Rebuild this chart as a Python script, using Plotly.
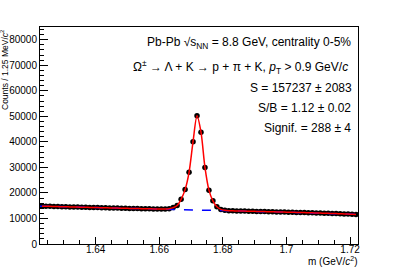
import plotly.graph_objects as go

# ---- data ----
bin_low = 1.6225
bin_width = 0.00125
counts = [14820, 14760, 14740, 14690, 14650, 14600, 14580, 14530, 14490, 14450,
          14420, 14380, 14330, 14300, 14250, 14220, 14180, 14140, 14100, 14060,
          14030, 13990, 13950, 13920, 13880, 13850, 13810, 13780, 13740, 13720,
          13700, 13720, 13850, 14250, 15100, 17500, 21300, 28100, 40100, 50200,
          43800, 30000, 21100, 16900, 14600, 13550, 13200, 13050, 12990, 12950,
          12920, 12880, 12840, 12800, 12770, 12730, 12690, 12650, 12620, 12580,
          12540, 12500, 12460, 12420, 12380, 12340, 12290, 12250, 12200, 12160,
          12110, 12060, 12010, 11960, 11900, 11850, 11790, 11730, 11670, 11600]
bg_x = [1.6225, 1.64, 1.66, 1.68, 1.70, 1.7225]
bg_y = [14830, 14300, 13650, 13080, 12450, 11590]

x_ticks = [1.64, 1.66, 1.68, 1.70, 1.72]
x_ticklabels = ["1.64", "1.66", "1.68", "1.7", "1.72"]
y_ticks = [0, 10000, 20000, 30000, 40000, 50000, 60000, 70000, 80000]
y_ticklabels = ["0", "10000", "20000", "30000", "40000", "50000", "60000", "70000", "80000"]

info_lines = [
    "Pb-Pb √s<sub>NN</sub> = 8.8 GeV, centrality 0-5%",
    "Ω<sup>±</sup> → Λ + K → p + π + K, <i>p</i><sub>T</sub> > 0.9 GeV/<i>c</i>",
    "S = 157237 ± 2083",
    "S/B = 1.12 ± 0.02",
    "Signif. = 288 ± 4",
]

centers = [bin_low + (i + 0.5) * bin_width for i in range(len(counts))]

# ---- layout geometry (pixels) ----
W, H = 398, 272
L, R, T, B = 40, 40, 27, 28
pw, ph = W - L - R, H - T - B

def px(xp):
    return (xp - L) / pw

def py(yp):
    return (H - B - yp) / ph

FONT = "Liberation Sans, Arial, Helvetica, sans-serif"

fig = go.Figure()
fig.add_trace(go.Scatter(x=centers, y=counts, mode="markers",
                         marker=dict(color="black", size=5.5, symbol="circle"),
                         showlegend=False))
fig.add_trace(go.Scatter(x=bg_x, y=bg_y, mode="lines", line_shape="spline",
                         line=dict(color="blue", width=1.5, dash="dash"),
                         showlegend=False))
fig.add_trace(go.Scatter(x=centers, y=counts, mode="lines", line_shape="spline",
                         line=dict(color="red", width=1.5, smoothing=0.8),
                         showlegend=False))

line_y = [43, 66.5, 87.5, 108, 128]
line_x = [353, 350, 354, 353, 353]
ann = []
for t, yy, xx in zip(info_lines, line_y, line_x):
    ann.append(dict(text=t, xref="paper", yref="paper", x=px(xx), y=py(yy),
                    xanchor="right", yanchor="middle", showarrow=False,
                    font=dict(size=12, color="black", family=FONT)))
ann.append(dict(text="m (GeV/<i>c</i><sup>2</sup>)", xref="paper", yref="paper",
                x=px(359), y=py(261), xanchor="right", yanchor="middle",
                showarrow=False, font=dict(size=10, color="black", family=FONT)))
ann.append(dict(text="Counts / 1.25 MeV/<i>c</i><sup>2</sup>", xref="paper", yref="paper",
                x=px(4), y=py(28), xanchor="center", yanchor="top", textangle=-90,
                showarrow=False, font=dict(size=8.5, color="black", family=FONT)))

fig.update_layout(
    width=W, height=H, margin=dict(l=L, r=R, t=T, b=B, autoexpand=False),
    paper_bgcolor="white", plot_bgcolor="white",
    font=dict(family=FONT, size=10, color="black"),
    annotations=ann,
    xaxis=dict(range=[bin_low, bin_low + len(counts) * bin_width],
               tickvals=x_ticks, ticktext=x_ticklabels, automargin=False,
               ticks="inside", ticklen=7, tickwidth=1, tickcolor="black",
               ticklabelstandoff=-4,
               minor=dict(dtick=0.005, ticks="inside", ticklen=4, tickcolor="black"),
               showline=True, linecolor="black", linewidth=1, mirror=True,
               showgrid=False, zeroline=False, tickfont=dict(size=10)),
    yaxis=dict(range=[0, 85000], tickvals=y_ticks, ticktext=y_ticklabels,
               automargin=False,
               ticks="inside", ticklen=8, tickwidth=1, tickcolor="black",
               minor=dict(dtick=2000, ticks="inside", ticklen=4, tickcolor="black"),
               showline=True, linecolor="black", linewidth=1, mirror=True,
               showgrid=False, zeroline=False, tickfont=dict(size=10)),
)

fig.write_html("out.html", config={"displayModeBar": False},
               post_script="document.body.style.margin='0';")
